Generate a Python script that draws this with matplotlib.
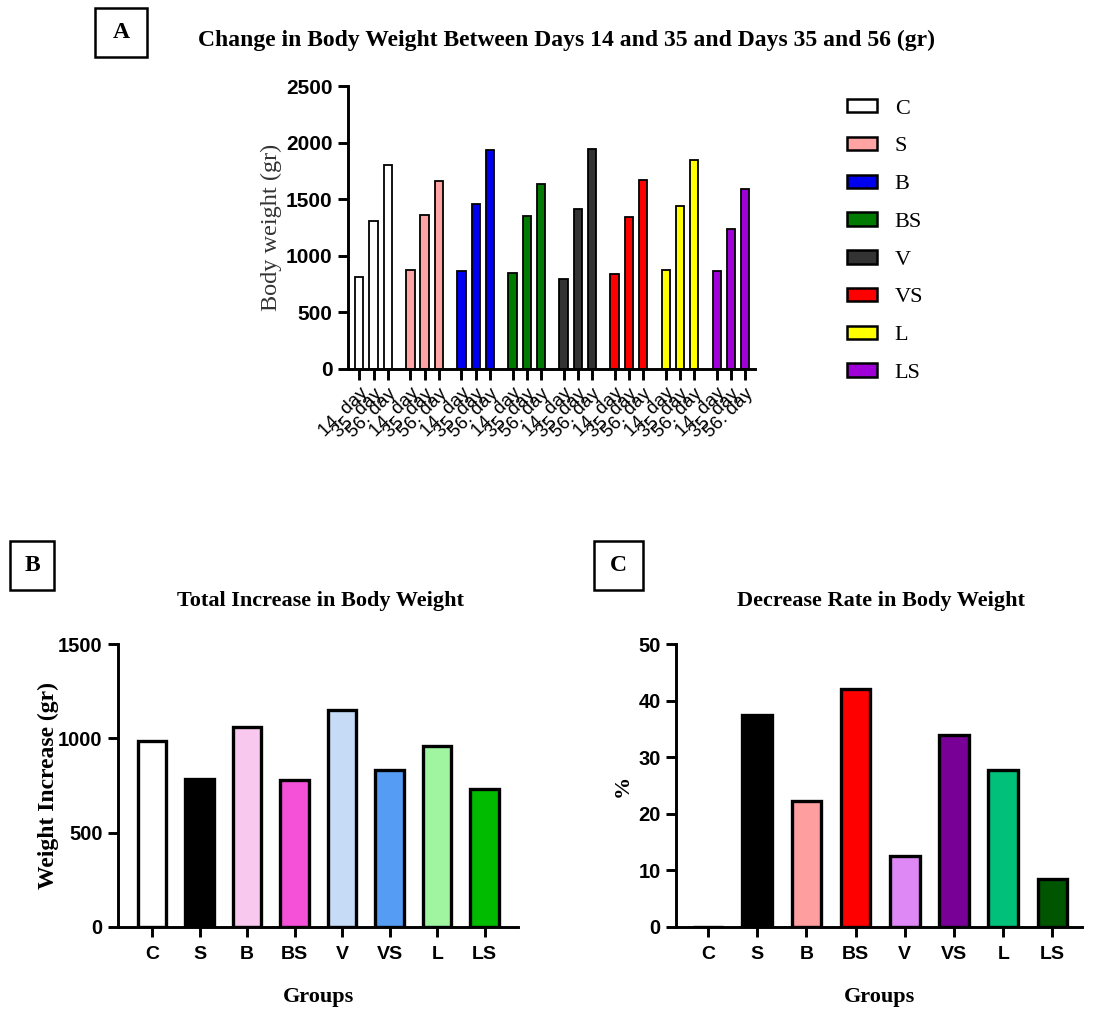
import matplotlib
matplotlib.use("Agg")
import matplotlib.pyplot as plt
from matplotlib.patches import Patch, Rectangle
import numpy as np

# ---------------- data ----------------
groups = ["C", "S", "B", "BS", "V", "VS", "L", "LS"]
day_labels = ["14. day", "35. day", "56. day"]
day14 = [812, 877, 862, 850, 794, 835, 871, 862]
day35 = [1308, 1358, 1461, 1349, 1411, 1343, 1438, 1240]
day56 = [1801, 1659, 1934, 1632, 1945, 1674, 1845, 1594]
colors_a = ["#FFFFFF", "#FFA3A3", "#0000F0", "#007A00", "#333333", "#FF0000", "#FFFF00", "#A000D8"]

total_increase = [988, 786, 1060, 777, 1152, 834, 958, 731]
colors_b = ["#FFFFFF", "#000000", "#F8C8EE", "#F550D8", "#C6DCF6", "#559CF5", "#A0F5A0", "#00BB00"]

decrease_rate = [0, 37.4, 22.2, 42.0, 12.5, 33.9, 27.7, 8.5]
colors_c = ["#FFFFFF", "#000000", "#FF9E9E", "#FF0000", "#DD88F5", "#780096", "#00C07A", "#005500"]

W, H = 1105, 1009
fig = plt.figure(figsize=(W / 100, H / 100), dpi=100)

SERIF = "Liberation Serif"
SANS = "Liberation Sans"


def ax_at(l, r, t, b):
    return fig.add_axes([l / W, 1 - b / H, (r - l) / W, (b - t) / H])


def style(ax, ysize):
    for s in ["top", "right"]:
        ax.spines[s].set_visible(False)
    for s in ["left", "bottom"]:
        ax.spines[s].set_linewidth(2.1)
    ax.tick_params(axis="both", width=2.1, length=7.5, direction="out")
    for lab in ax.get_yticklabels():
        lab.set_fontfamily(SANS)
        lab.set_fontweight("bold")
        lab.set_fontsize(ysize)


def boxed_letter(x0, y0, x1, y1, letter):
    rect = Rectangle((x0 / W, 1 - y1 / H), (x1 - x0) / W, (y1 - y0) / H,
                     transform=fig.transFigure, fill=False, lw=1.8, ec="black")
    fig.patches.append(rect)
    fig.text((x0 + x1) / 2 / W, 1 - (y0 + y1) / 2 / H, letter, ha="center", va="center",
             family=SERIF, weight="bold", fontsize=17)


# ---------------- Panel A ----------------
axA = ax_at(348, 755, 86, 369)
gap = 3.6
xs, labels = [], []
for i, g in enumerate(groups):
    vals = [day14[i], day35[i], day56[i]]
    for j in range(3):
        x = i * gap + j
        axA.bar(x, vals[j], width=0.58, color=colors_a[i], edgecolor="black", linewidth=1.3)
        xs.append(x)
        labels.append(day_labels[j])
axA.set_xlim(-0.8, 7 * gap + 2 + 0.7)
axA.set_ylim(0, 2500)
axA.set_yticks([0, 500, 1000, 1500, 2000, 2500])
axA.set_xticks(xs)
axA.set_xticklabels(labels, rotation=45, ha="right", rotation_mode="anchor",
                    family=SANS, fontsize=13.5)
style(axA, 15)
axA.tick_params(axis="x", length=8)
axA.set_ylabel("Body weight (gr)", family=SERIF, fontsize=17.5, color="#333333", labelpad=3)

handles = [Patch(facecolor=c, edgecolor="black", linewidth=1.8) for c in colors_a]
fig.legend(handles, groups, loc="upper left", bbox_to_anchor=(827 / W, 1 - 79 / H),
           frameon=False, prop={"family": SERIF, "size": 16},
           handlelength=1.35, handleheight=0.55, labelspacing=0.82, handletextpad=0.8)

fig.text(566 / W, 1 - 40 / H, "Change in Body Weight Between Days 14 and 35 and Days 35 and 56 (gr)",
         ha="center", va="center", family=SERIF, weight="bold", fontsize=17)
boxed_letter(95, 8, 147, 57, "A")

# ---------------- Panel B ----------------
axB = ax_at(118, 518, 644, 927)
xb = np.arange(len(groups))
axB.bar(xb, total_increase, width=0.6, color=colors_b, edgecolor="black", linewidth=2.4)
axB.set_xlim(-0.72, 7.7)
axB.set_ylim(0, 1500)
axB.set_yticks([0, 500, 1000, 1500])
axB.set_xticks(xb)
axB.set_xticklabels(groups, family=SANS, weight="bold", fontsize=14)
style(axB, 14.5)
axB.tick_params(axis="x", pad=6)
axB.set_ylabel("Weight Increase (gr)", family=SERIF, weight="bold", fontsize=17, labelpad=-1)
fig.text(320 / W, 1 - 601 / H, "Total Increase in Body Weight", ha="center", va="center",
         family=SERIF, weight="bold", fontsize=16)
fig.text(319 / W, 1 - 997 / H, "Groups", ha="center", va="center",
         family=SERIF, weight="bold", fontsize=16)
boxed_letter(10, 541, 54, 590, "B")

# ---------------- Panel C ----------------
axC = ax_at(676, 1082, 644, 927)
axC.bar(xb, decrease_rate, width=0.6, color=colors_c, edgecolor="black", linewidth=2.4)
axC.set_xlim(-0.65, 7.6)
axC.set_ylim(0, 50)
axC.set_yticks([0, 10, 20, 30, 40, 50])
axC.set_xticks(xb)
axC.set_xticklabels(groups, family=SANS, weight="bold", fontsize=14)
style(axC, 14.5)
axC.tick_params(axis="x", pad=6)
axC.set_ylabel("%", family=SERIF, weight="bold", fontsize=16, labelpad=4)
fig.text(881 / W, 1 - 601 / H, "Decrease Rate in Body Weight", ha="center", va="center",
         family=SERIF, weight="bold", fontsize=16)
fig.text(880 / W, 1 - 997 / H, "Groups", ha="center", va="center",
         family=SERIF, weight="bold", fontsize=16)
boxed_letter(594, 541, 643, 590, "C")

fig.savefig("out.png", dpi=100, facecolor="white")
